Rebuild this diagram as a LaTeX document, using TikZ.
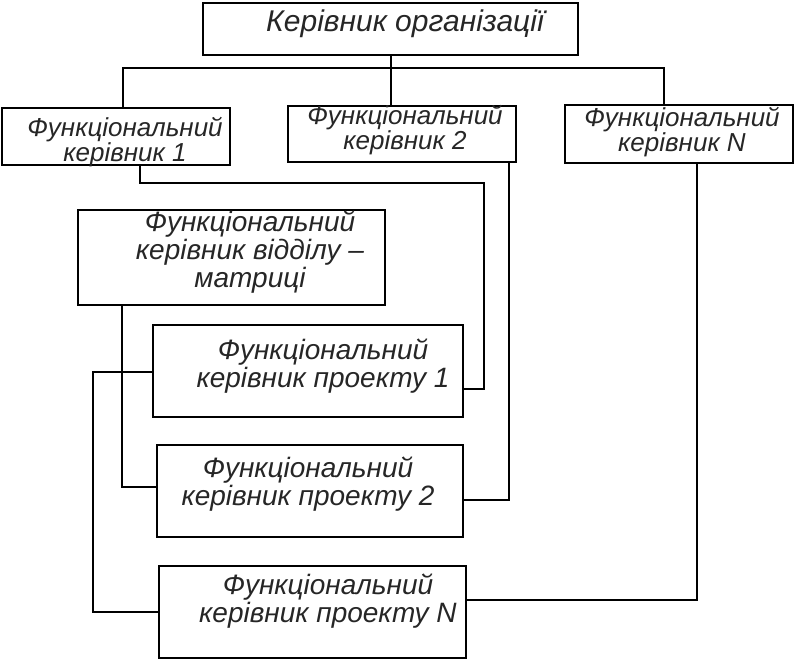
\documentclass[tikz,border=0pt]{standalone}
\usepackage{fontspec}
\setmainfont{Liberation Sans}
\usepackage{tikz}

\begin{document}
\begin{tikzpicture}[x=1pt,y=-1pt,line width=2pt,
	box/.style={draw,inner sep=0pt},
	txt/.style={align=center,inner sep=0pt,text=black!85,font=\itshape\fontsize{26}{25}\selectfont},
	bigtxt/.style={txt,font=\itshape\fontsize{28}{28}\selectfont}]
	\useasboundingbox (0,0) rectangle (794,661);

	\node[box,minimum width=375pt,minimum height=52pt] (top) at (390.5,29) {};
	\node[txt,font=\itshape\fontsize{30}{30}\selectfont] (topt) at (405,24) {Керівник організації};

	\node[box,minimum width=228pt,minimum height=57pt] (f1) at (116,136.5) {};
	\node[txt] (f1t) at (125,142) {Функціональний\\керівник 1};
	\node[box,minimum width=228pt,minimum height=56pt] (f2) at (402,134) {};
	\node[txt] (f2t) at (405,130) {Функціональний\\керівник 2};
	\node[box,minimum width=228pt,minimum height=58pt] (fN) at (679,134) {};
	\node[txt] (fNt) at (682,132) {Функціональний\\керівник N};

	\node[box,minimum width=307pt,minimum height=95pt] (mat) at (231.5,257) {};
	\node[bigtxt] (matt) at (250,252) {Функціональний\\керівник відділу –\\матриці};
	\node[box,minimum width=310pt,minimum height=92pt] (p1) at (308,371) {};
	\node[bigtxt] (p1t) at (323,366) {Функціональний\\керівник проекту 1};
	\node[box,minimum width=306pt,minimum height=92pt] (p2) at (310,491) {};
	\node[bigtxt] (p2t) at (308,484) {Функціональний\\керівник проекту 2};
	\node[box,minimum width=307pt,minimum height=92pt] (pN) at (312.5,612) {};
	\node[bigtxt] (pNt) at (328,601) {Функціональний\\керівник проекту N};

	\coordinate (b1) at (123,68);
	\coordinate (b2) at (top.south |- b1);
	\coordinate (bN) at (664,68);
	\draw (top.south) -- (b2);
	\draw (b1 |- f1.north) -- (b1) -- (bN) -- (bN |- fN.north);
	\draw (b2) -- (b2 |- f2.north);

	\coordinate (k1) at (140,183);
	\coordinate (k2) at (484,389);
	\draw (k1 |- f1.south) -- (k1) -| (k2) -- (k2 -| p1.east);
	\coordinate (k3) at (509,500);
	\draw (k3 |- f2.south) -- (k3) -- (k3 -| p2.east);
	\coordinate (k4) at (697,600);
	\draw (k4 |- fN.south) -- (k4) -- (k4 -| pN.east);
	\coordinate (k5) at (122,487);
	\draw (k5 |- mat.south) -- (k5) -- (k5 -| p2.west);
	\coordinate (k6) at (93,372);
	\coordinate (k7) at (93,612);
	\draw (k6 -| p1.west) -- (k6) -- (k7) -- (k7 -| pN.west);
\end{tikzpicture}
\end{document}
